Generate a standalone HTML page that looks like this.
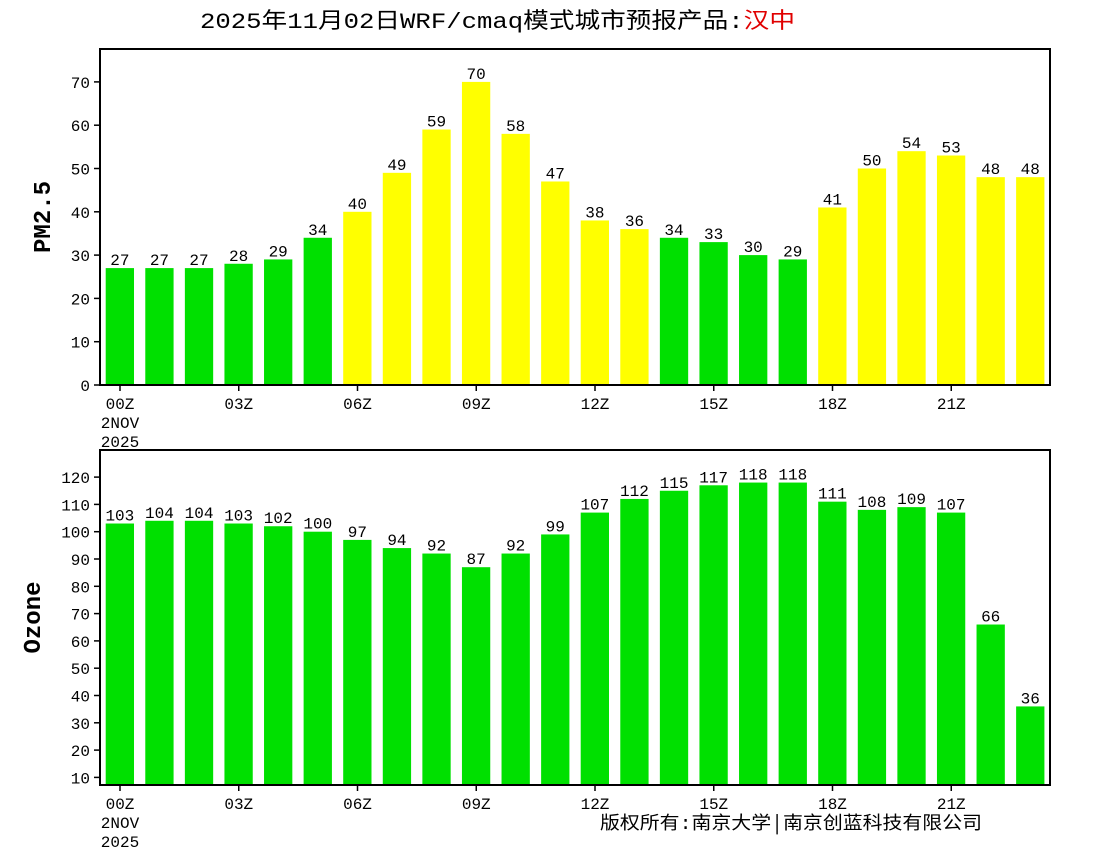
<!DOCTYPE html>
<html><head><meta charset="utf-8"><style>
body{margin:0;background:#fff;}
svg text{font-family:"Liberation Mono","Noto Sans CJK SC",monospace;}
</style></head><body>
<svg id="c" width="1100" height="850" viewBox="0 0 1100 850" xmlns="http://www.w3.org/2000/svg">
<text x="200" y="28" font-size="22" fill="#000" textLength="595" lengthAdjust="spacingAndGlyphs">2025年11月02日WRF/cmaq模式城市预报产品:<tspan fill="#e00000">汉中</tspan></text>
<text x="600" y="829" font-size="18" fill="#000" textLength="382" lengthAdjust="spacingAndGlyphs">版权所有:南京大学│南京创蓝科技有限公司</text>
</svg>
<script>
const hours=["00Z","03Z","06Z","09Z","12Z","15Z","18Z","21Z"];
const pmValues=[27,27,27,28,29,34,40,49,59,70,58,47,38,36,34,33,30,29,41,50,54,53,48,48];
const ozoneValues=[103,104,104,103,102,100,97,94,92,87,92,99,107,112,115,117,118,118,111,108,109,107,66,36];
const pmTicks=[0,10,20,30,40,50,60,70];
const ozTicks=[10,20,30,40,50,60,70,80,90,100,110,120];
const svg=document.getElementById('c');
const NS='http://www.w3.org/2000/svg';
function mk(tag,attrs,txt){const e=document.createElementNS(NS,tag);for(const k in attrs)e.setAttribute(k,attrs[k]);if(txt!==undefined)e.textContent=txt;svg.appendChild(e);return e;}
const X0=100,X1=1050,slot=(X1-X0)/24;
function panel(name,vals,ticks,top,bottom,yOf,color,yTitle,titleX){
  vals.forEach((v,i)=>{
    const x=X0+slot*i+5.7,y=yOf(v);
    const r=mk('rect',{x:x,y:y,width:28.3,height:bottom-y,fill:color(v)});
    
    
    const t=mk('text',{x:x+14.15,y:y-3,'font-size':16,'text-anchor':'middle',fill:'#000'},String(v));
    
    
  });
  const f=mk('rect',{x:X0,y:top,width:X1-X0,height:bottom-top,fill:'none',stroke:'#000','stroke-width':2});
  
  
  ticks.forEach(tv=>{
    const y=yOf(tv);
    mk('line',{x1:X0-6,x2:X0,y1:y,y2:y,stroke:'#000','stroke-width':1.5});
    const t=mk('text',{x:X0-10,y:y+6,'font-size':16,'text-anchor':'end',fill:'#000'},String(tv));
    
    
  });
  hours.forEach((h,k)=>{
    const cx=X0+slot*(k*3)+20;
    mk('line',{x1:cx,x2:cx,y1:bottom,y2:bottom+6,stroke:'#000','stroke-width':1.5});
    const t=mk('text',{x:cx,y:bottom+24,'font-size':16,'text-anchor':'middle',fill:'#000'},h);
    
    
  });
  const d1=mk('text',{x:X0+20,y:bottom+43,'font-size':16,'text-anchor':'middle',fill:'#000'},'2NOV');
  
  
  const d2=mk('text',{x:X0+20,y:bottom+62,'font-size':16,'text-anchor':'middle',fill:'#000'},'2025');
  
  
  const cy=(top+bottom)/2;
  const yt=mk('text',{x:titleX,y:cy,'font-size':24,'font-weight':'bold','text-anchor':'middle',fill:'#000',transform:'rotate(-90 '+titleX+' '+cy+')'},yTitle);
  
  
}
panel('pm25',pmValues,pmTicks,49,385,v=>385-v*4.33,v=>v>35?'#ffff00':'#00e000','PM2.5',50);
panel('ozone',ozoneValues,ozTicks,450,785,v=>531.7-(v-100)*2.73,v=>'#00e000','Ozone',40);
</script>
</body></html>
